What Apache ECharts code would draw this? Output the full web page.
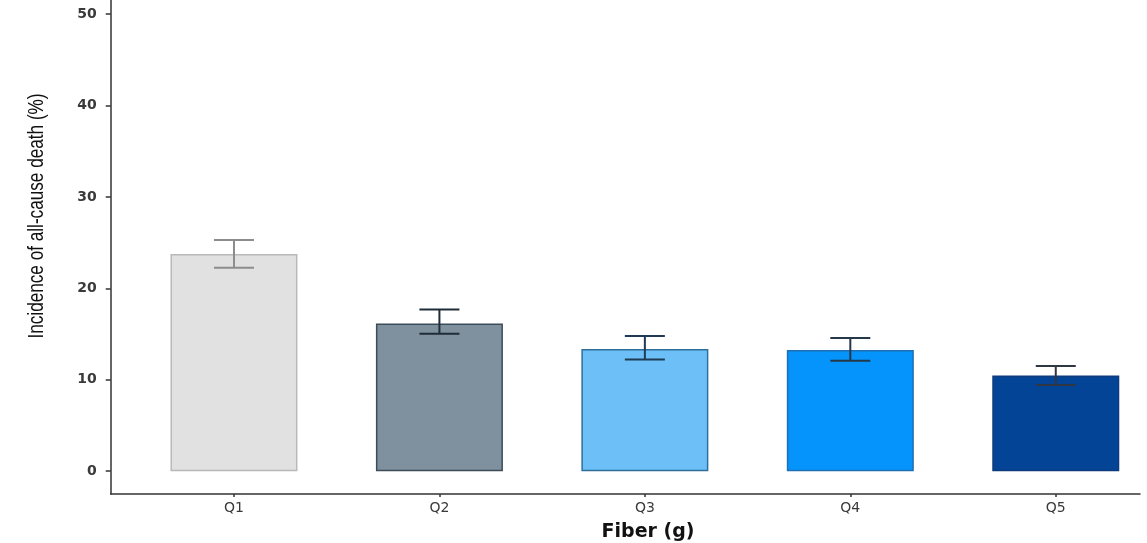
<!DOCTYPE html>
<html>
<head>
<meta charset="utf-8">
<script src="https://cdn.jsdelivr.net/npm/echarts@6/dist/echarts.min.js"></script>
<style>
html,body{margin:0;padding:0;background:#fff;}
#c{width:1147px;height:543px;}
</style>
</head>
<body>
<div id="c"></div>
<script>
// ---- data ----
const categories = ['Q1', 'Q2', 'Q3', 'Q4', 'Q5'];
const incidence = [23.74, 16.16, 13.35, 13.24, 10.47];
const errLow = [22.24, 15.02, 12.22, 12.07, 9.41];
const errHigh = [25.27, 17.69, 14.77, 14.55, 11.49];
const yTicks = [0, 10, 20, 30, 40, 50];

// ---- styles ----
const fillColors = ['#e1e1e1', '#7f919e', '#6cc0f7', '#0494fb', '#044497'];
const borderColors = ['#b9b9b9', '#3c4d5a', '#2e6f9c', '#1f6fb5', '#0d3b7c'];
const errColors = ['#8c8c8c', '#1f2d39', '#1e3a55', '#25384a', '#2f3742'];

const chart = echarts.init(document.getElementById('c'), null, {renderer: 'canvas'});

const barData = categories.map((c, i) => ({
  value: [i + 1, incidence[i]],
  itemStyle: {color: fillColors[i], borderColor: borderColors[i], borderWidth: 1.5}
}));
const errData = categories.map((c, i) => ({
  value: [i + 1, errLow[i], errHigh[i]],
  itemStyle: {color: errColors[i]}
}));

const option = {
  animation: false,
  backgroundColor: '#ffffff',
  grid: {
    left: 110.7, top: -8.85, right: 1147 - 1140, bottom: 543 - 494,
    containLabel: false, outerBoundsMode: 'none'
  },
  xAxis: {
    type: 'value',
    min: 0.4,
    max: 5.41,
    splitLine: {show: false},
    axisLine: {show: true, onZero: false, lineStyle: {color: '#333333', width: 1.5}},
    axisTick: {show: true, length: 3, customValues: [1, 2, 3, 4, 5], lineStyle: {color: '#333333', width: 1.5}},
    axisLabel: {
      customValues: [1, 2, 3, 4, 5],
      margin: 7,
      color: '#3a3a3a',
      fontFamily: 'DejaVu Sans',
      fontSize: 14,
      formatter: v => categories[Math.round(v) - 1] || ''
    }
  },
  yAxis: {
    type: 'value',
    min: -2.5,
    max: 52.5,
    splitLine: {show: false},
    axisLine: {show: true, onZero: false, lineStyle: {color: '#333333', width: 1.5}},
    axisTick: {show: true, length: 5, customValues: yTicks, lineStyle: {color: '#333333', width: 1.5}},
    axisLabel: {
      customValues: yTicks,
      margin: 14,
      color: '#3a3a3a',
      fontFamily: 'DejaVu Sans',
      fontSize: 14,
      fontWeight: 'bold'
    }
  },
  graphic: [
    {
      type: 'text',
      x: 37, y: 216,
      rotation: Math.PI / 2,
      scaleX: 0.78,
      style: {
        text: 'Incidence of all-cause death (%)',
        fontFamily: 'Liberation Sans',
        fontSize: 22,
        fill: '#111111',
        align: 'center',
        verticalAlign: 'middle'
      }
    },
    {
      type: 'text',
      x: 648, y: 532,
      style: {
        text: 'Fiber (g)',
        fontFamily: 'DejaVu Sans',
        fontWeight: 'bold',
        fontSize: 19,
        fill: '#111111',
        align: 'center',
        verticalAlign: 'middle'
      }
    }
  ],
  series: [
    {
      type: 'bar',
      barWidth: 127,
      data: barData,
      z: 2
    },
    {
      type: 'custom',
      z: 3,
      data: errData,
      renderItem: function (params, api) {
        const x = api.value(0);
        const lo = api.coord([x, api.value(1)]);
        const hi = api.coord([x, api.value(2)]);
        const half = 20;
        const color = api.visual('color');
        const style = {stroke: color, lineWidth: 2};
        return {
          type: 'group',
          children: [
            {type: 'line', shape: {x1: hi[0], y1: hi[1], x2: lo[0], y2: lo[1]}, style: style},
            {type: 'line', shape: {x1: hi[0] - half, y1: hi[1], x2: hi[0] + half, y2: hi[1]}, style: style},
            {type: 'line', shape: {x1: lo[0] - half, y1: lo[1], x2: lo[0] + half, y2: lo[1]}, style: style}
          ]
        };
      }
    }
  ]
};
chart.setOption(option);
</script>
</body>
</html>
